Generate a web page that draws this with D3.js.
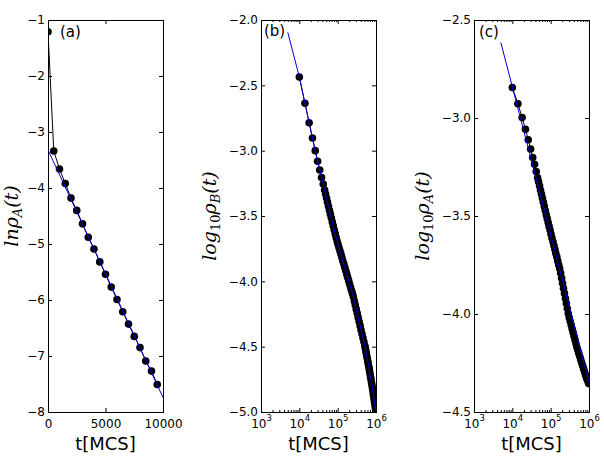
<!DOCTYPE html>
<meta charset="utf-8">
<style>
    body { margin: 0; background: #fff; }
    svg text { font-family: "DejaVu Sans", sans-serif; fill: #000; }
    .tick text { font-size: 12px; }
    .xlabel { font-size: 18px; text-anchor: middle; }
    .ylabel { font-family: "DejaVu Serif", serif; font-style: italic; font-size: 19px; text-anchor: middle; }
    .tag { font-size: 15px; }
</style>
<svg width="604" height="462"></svg>
<script src="https://d3js.org/d3.v7.min.js"></script>
<script>

    // panel (a): ln rho_A vs t
    var tA = [0, 500, 1000, 1500, 2000, 2500, 3000, 3500, 4000, 4500,
        5000, 5500, 6000, 6500, 7000, 7500, 8000, 8500, 9000, 9500];
    var lnA = [-1.21, -3.34, -3.66, -3.92, -4.18, -4.40, -4.64, -4.88, -5.09, -5.32,
        -5.54, -5.77, -5.99, -6.21, -6.43, -6.65, -6.85, -7.09, -7.27, -7.51];
    var fitAT = [0, 10000],
        fitAV = [-3.32, -7.74];

    // panel (b): log10 rho_B vs t
    var tB = [10000, 14000, 18000, 22000, 26000, 30000, 34000, 38000, 42000,
        45700, 48400, 51300, 54300, 57500, 61000, 64600, 68400, 72400, 76700,
        81300, 86100, 91200, 96600, 102000, 108000, 115000, 122000, 129000, 136000,
        145000, 153000, 162000, 172000, 182000, 193000, 204000, 216000, 229000, 243000,
        257000, 272000, 288000, 305000, 324000, 343000, 363000, 385000, 407000, 432000,
        457000, 484000, 513000, 528000, 543000, 559000, 575000, 592000, 610000, 628000,
        646000, 665000, 684000, 704000, 724000, 745000, 767000, 790000, 813000, 837000,
        861000, 886000, 912000, 939000, 966000, 982000, 998000];
    var logB = [-2.436, -2.637, -2.786, -2.903, -3.000, -3.081, -3.148, -3.205, -3.255,
        -3.301, -3.332, -3.363, -3.394, -3.425, -3.456, -3.486, -3.516, -3.545, -3.575,
        -3.605, -3.635, -3.664, -3.692, -3.717, -3.742, -3.767, -3.792, -3.817, -3.842,
        -3.867, -3.892, -3.918, -3.943, -3.968, -3.993, -4.018, -4.043, -4.068, -4.093,
        -4.118, -4.150, -4.181, -4.213, -4.244, -4.276, -4.308, -4.339, -4.371, -4.402,
        -4.432, -4.463, -4.494, -4.513, -4.532, -4.552, -4.571, -4.591, -4.611, -4.630,
        -4.650, -4.670, -4.691, -4.713, -4.735, -4.756, -4.778, -4.800, -4.822, -4.847,
        -4.872, -4.898, -4.924, -4.947, -4.970, -4.979, -4.988];
    var leadBT = 5000,
        leadBV = -2.094;

    // panel (c): log10 rho_A vs t
    var tC = [10000, 14000, 18000, 22000, 26000, 30000, 34000, 38000, 42000,
        45700, 48400, 51300, 54300, 57500, 61000, 64600, 68400, 72400, 76700,
        81300, 86100, 91200, 96600, 102000, 108000, 115000, 122000, 129000, 136000,
        145000, 153000, 162000, 172000, 182000, 193000, 204000, 216000, 229000, 243000,
        257000, 272000, 288000, 305000, 324000, 343000, 363000, 385000, 407000, 432000,
        457000, 484000, 513000, 543000, 575000, 610000, 646000, 684000, 724000, 767000,
        813000, 861000, 912000, 966000, 998000];
    var logC = [-2.845, -2.927, -2.998, -3.058, -3.111, -3.158, -3.202, -3.236, -3.273,
        -3.305, -3.325, -3.346, -3.367, -3.388, -3.409, -3.430, -3.451, -3.472, -3.493,
        -3.513, -3.533, -3.553, -3.572, -3.592, -3.611, -3.631, -3.651, -3.670, -3.690,
        -3.709, -3.729, -3.749, -3.768, -3.791, -3.817, -3.843, -3.869, -3.895, -3.921,
        -3.946, -3.972, -3.998, -4.018, -4.037, -4.056, -4.075, -4.094, -4.113, -4.132,
        -4.151, -4.170, -4.185, -4.201, -4.217, -4.233, -4.249, -4.264, -4.280, -4.296,
        -4.311, -4.325, -4.338, -4.350, -4.356];
    var fitCT = [5000, 1000000],
        fitCV = [-2.614, -4.35];

    var xTicksA = [0, 5000, 10000],
        xTicksLog = [1e3, 1e4, 1e5, 1e6],
        yTicksA = [-1, -2, -3, -4, -5, -6, -7, -8],
        yTicksB = [-2.0, -2.5, -3.0, -3.5, -4.0, -4.5, -5.0],
        yTicksC = [-2.5, -3.0, -3.5, -4.0, -4.5];

    var svg = d3.select("svg"),
        plotTop = 20, plotBottom = 412, pw = 115;

    function zip(xs, ys) {
        return xs.map(function (d, i) { return [d, ys[i]]; });
    }

    function panel(id, left, x, y, yTicks, yFmt, isLog) {
        var g = svg.append("g");
        x.range([left, left + pw]);
        y.range([plotTop, plotBottom]);

        g.append("clipPath").attr("id", "clip" + id)
            .append("rect").attr("x", left).attr("y", plotTop)
            .attr("width", pw + 1).attr("height", plotBottom - plotTop + 1);

        var xb = d3.axisBottom(x).tickSize(-4).tickPadding(7),
            xt = d3.axisTop(x).tickSize(-4).tickFormat(""),
            yl = d3.axisLeft(y).tickValues(yTicks).tickSize(-4).tickPadding(3).tickFormat(yFmt),
            yr = d3.axisRight(y).tickValues(yTicks).tickSize(-4).tickFormat("");

        if (isLog) {
            xb.tickValues(xTicksLog).tickFormat("");
            xt.tickValues(xTicksLog);
        } else {
            xb.tickValues(xTicksA).tickFormat(d3.format("d"));
            xt.tickValues(xTicksA);
        }

        var ax = [
            g.append("g").attr("transform", "translate(0," + plotBottom + ")").call(xb),
            g.append("g").attr("transform", "translate(0," + plotTop + ")").call(xt),
            g.append("g").attr("transform", "translate(" + left + ",0)").call(yl),
            g.append("g").attr("transform", "translate(" + (left + pw) + ",0)").call(yr)
        ];

        if (isLog) {
            // minor ticks from the log scale itself
            var minor = x.ticks().filter(function (d) {
                return Math.abs(Math.log10(d) - Math.round(Math.log10(d))) > 1e-6;
            });
            ax.push(g.append("g").attr("transform", "translate(0," + plotBottom + ")")
                .call(d3.axisBottom(x).tickValues(minor).tickSize(-2).tickFormat("")));
            ax.push(g.append("g").attr("transform", "translate(0," + plotTop + ")")
                .call(d3.axisTop(x).tickValues(minor).tickSize(-2).tickFormat("")));

            ax[0].selectAll(".tick text").each(function (d) {
                var t = d3.select(this);
                t.text(null);
                t.append("tspan").text("10");
                t.append("tspan").attr("dy", -7).style("font-size", "8.5px")
                    .text(Math.round(Math.log10(d)));
            });
        }

        ax.forEach(function (a) {
            a.select(".domain").remove();
            a.selectAll(".tick line").attr("stroke", "#000");
        });

        g.append("rect")
            .attr("x", left + 0.5).attr("y", plotTop + 0.5)
            .attr("width", pw).attr("height", plotBottom - plotTop)
            .attr("fill", "none").attr("stroke", "#000");

        g.append("text").attr("class", "xlabel")
            .attr("x", left + pw / 2).attr("y", 450)
            .text("t[MCS]");

        return g.append("g").attr("clip-path", "url(#clip" + id + ")");
    }

    function yLabel(x, parts) {
        var t = svg.append("text").attr("class", "ylabel")
            .attr("transform", "translate(" + x + ",216) rotate(-90)");
        parts.forEach(function (p) {
            var s = t.append("tspan").text(p[0]);
            if (p[1]) s.attr("dy", p[1]);
            if (p[2]) s.style("font-size", p[2]).style("font-style", p[3] || null);
        });
    }

    var line = function (x, y) {
        return d3.line().x(function (d) { return x(d[0]); }).y(function (d) { return y(d[1]); });
    };

    function dots(g, data, x, y) {
        g.selectAll("circle").data(data).enter().append("circle")
            .attr("cx", function (d) { return x(d[0]); })
            .attr("cy", function (d) { return y(d[1]); })
            .attr("r", 3.8).attr("fill", "#000");
    }

    var blue = "#0000dd";

    // (a)
    var xa = d3.scaleLinear().domain([0, 10000]),
        ya = d3.scaleLinear().domain([-1, -8]);
    var pa = panel("a", 48, xa, ya, yTicksA, d3.format("d"), false);
    var dA = zip(tA, lnA);
    pa.append("path").attr("d", line(xa, ya)(dA))
        .attr("fill", "none").attr("stroke", "#000").attr("stroke-width", 1);
    dots(pa, dA, xa, ya);
    pa.append("path").attr("d", line(xa, ya)(zip(fitAT, fitAV)))
        .attr("fill", "none").attr("stroke", blue).attr("stroke-width", 1);
    svg.append("text").attr("class", "tag").attr("x", 60).attr("y", 37).text("(a)");

    // (b)
    var xb = d3.scaleLog().domain([1e3, 1e6]),
        yb = d3.scaleLinear().domain([-2, -5]);
    var pb = panel("b", 261, xb, yb, yTicksB, d3.format(".1f"), true);
    var dB = zip(tB, logB);
    pb.append("path").attr("d", line(xb, yb)(dB))
        .attr("fill", "none").attr("stroke", "#000").attr("stroke-width", 1);
    dots(pb, dB, xb, yb);
    pb.append("path").attr("d", line(xb, yb)([[leadBT, leadBV]].concat(dB)))
        .attr("fill", "none").attr("stroke", blue).attr("stroke-width", 1);
    svg.append("text").attr("class", "tag").attr("x", 264).attr("y", 36).text("(b)");

    // (c)
    var xc = d3.scaleLog().domain([1e3, 1e6]),
        yc = d3.scaleLinear().domain([-2.5, -4.5]);
    var pc = panel("c", 474, xc, yc, yTicksC, d3.format(".1f"), true);
    var dC = zip(tC, logC);
    pc.append("path").attr("d", line(xc, yc)(dC))
        .attr("fill", "none").attr("stroke", "#000").attr("stroke-width", 1);
    dots(pc, dC, xc, yc);
    pc.append("path").attr("d", line(xc, yc)(zip(fitCT, fitCV)))
        .attr("fill", "none").attr("stroke", blue).attr("stroke-width", 1);
    svg.append("text").attr("class", "tag").attr("x", 479).attr("y", 37).text("(c)");

    // axis titles (math-style)
    yLabel(18, [["lnρ"], ["A", 4, "13px"], ["(t)", -4, "19px"]]);
    yLabel(216, [["log"], ["10", 4, "13px", "normal"], ["ρ", -4, "19px"], ["B", 4, "13px"], ["(t)", -4, "19px"]]);
    yLabel(429, [["log"], ["10", 4, "13px", "normal"], ["ρ", -4, "19px"], ["A", 4, "13px"], ["(t)", -4, "19px"]]);

</script>
